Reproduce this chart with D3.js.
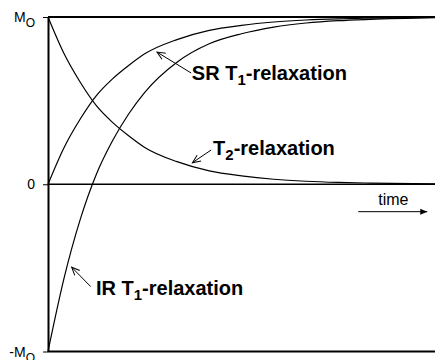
<!DOCTYPE html>
<html>
<head>
<meta charset="utf-8">
<script src="https://cdn.jsdelivr.net/npm/d3@7"></script>
<style>
  html, body { margin: 0; padding: 0; background: #fff; }
  svg { display: block; font-family: "Liberation Sans", Arial, sans-serif; }
</style>
</head>
<body>
<svg id="chart" width="435" height="360"></svg>
<script>
// Time samples (in units of the relaxation constant) and magnetisation values
const times   = [0, 0.25, 0.5, 0.75, 1, 1.25, 1.5, 2, 2.5, 3, 3.5, 4, 4.5, 5, 6];
const t2Decay = [1, 0.78, 0.61, 0.47, 0.37, 0.29, 0.22, 0.135, 0.08, 0.05, 0.03, 0.018, 0.011, 0.007, 0.002];
const srT1    = [0, 0.22, 0.39, 0.53, 0.63, 0.71, 0.78, 0.865, 0.92, 0.95, 0.97, 0.982, 0.989, 0.993, 0.998];
const irT1    = [-1, -0.56, -0.21, 0.06, 0.26, 0.42, 0.55, 0.73, 0.84, 0.90, 0.94, 0.964, 0.978, 0.986, 0.996];

// Magnetisation levels marked on the vertical axis
const levels      = [1, 0, -1];
const levelPrefix = ["M", "0", "-M"];
const levelSub    = ["O", "", "O"];

// Curve labels: text position, arrow start and arrow tip, all in data units
const labelNames = ["SR T", "T", "IR T"];
const labelSubs  = ["1", "2", "1"];
const labelAt    = [[2.23, 0.624], [2.56, 0.175], [0.744, -0.662]];
const arrowFrom  = [[2.22, 0.665], [2.53, 0.205], [0.662, -0.612]];
const arrowTo    = [[1.69, 0.79], [2.24, 0.129], [0.367, -0.496]];

const svg = d3.select("#chart");
const x = d3.scaleLinear().domain([0, 6]).range([48, 435]);
const y = d3.scaleLinear().domain([-1, 1]).range([351.5, 17]);

// Open arrowhead for label pointers, filled one for the time arrow
const defs = svg.append("defs");
defs.append("marker").attr("id", "open").attr("viewBox", "-10 -6 12 12")
  .attr("refX", 0).attr("refY", 0).attr("markerWidth", 12).attr("markerHeight", 12)
  .attr("markerUnits", "userSpaceOnUse").attr("orient", "auto")
  .append("path").attr("d", "M-8,-3.5 L0,0 L-8,3.5").attr("fill", "none")
  .attr("stroke", "#000").attr("stroke-width", 1);
defs.append("marker").attr("id", "solid").attr("viewBox", "-8 -4 9 8")
  .attr("refX", 0).attr("refY", 0).attr("markerWidth", 9).attr("markerHeight", 8)
  .attr("markerUnits", "userSpaceOnUse").attr("orient", "auto")
  .append("path").attr("d", "M-7,-3 L0,0 L-7,3 Z").attr("fill", "#000");

// Horizontal reference lines at +M0, 0 and -M0
svg.selectAll("line.level").data(levels).join("line")
  .attr("class", "level")
  .attr("x1", x(0)).attr("x2", x(6))
  .attr("y1", d => y(d)).attr("y2", d => y(d))
  .attr("stroke", "#000")
  .attr("stroke-width", d => d === 0 ? 1.3 : 2);

// Vertical axis with ticks at the three levels
const axis = d3.axisLeft(y).tickValues(levels).tickSize(5).tickSizeOuter(0).tickFormat("");
const gAxis = svg.append("g").attr("transform", `translate(${x(0)},0)`).call(axis);
gAxis.select(".domain").attr("stroke-width", 2);
gAxis.selectAll(".tick line").attr("stroke-width", 1);

const lvl = svg.append("g").attr("font-size", 14).attr("fill", "#000");
levels.forEach((v, i) => {
  const t = lvl.append("text")
    .attr("x", 35).attr("y", y(v) + 5)
    .attr("text-anchor", "end");
  t.append("tspan").text(levelPrefix[i]);
  if (levelSub[i]) t.append("tspan").attr("dy", 5).attr("font-size", 12).text(levelSub[i]);
});

// Relaxation curves
const line = d3.line().x(d => x(d[0])).y(d => y(d[1])).curve(d3.curveMonotoneX);
[t2Decay, srT1, irT1].forEach(series => {
  svg.append("path")
    .datum(times.map((t, i) => [t, series[i]]))
    .attr("d", line)
    .attr("fill", "none")
    .attr("stroke", "#000")
    .attr("stroke-width", 1.2);
});

// Curve labels with pointer arrows
labelNames.forEach((name, i) => {
  svg.append("line")
    .attr("x1", x(arrowFrom[i][0])).attr("y1", y(arrowFrom[i][1]))
    .attr("x2", x(arrowTo[i][0])).attr("y2", y(arrowTo[i][1]))
    .attr("stroke", "#000").attr("stroke-width", 1)
    .attr("marker-end", "url(#open)");
  const t = svg.append("text")
    .attr("x", x(labelAt[i][0])).attr("y", y(labelAt[i][1]))
    .attr("font-size", 20).attr("font-weight", "bold");
  t.append("tspan").text(name);
  t.append("tspan").attr("dy", 5).attr("font-size", 15).text(labelSubs[i]);
  t.append("tspan").attr("dy", -5).text("-relaxation");
});

// Time direction arrow
svg.append("text")
  .attr("x", x(5.12)).attr("y", y(-0.124))
  .attr("font-size", 16).text("time");
svg.append("line")
  .attr("x1", x(4.81)).attr("y1", y(-0.164))
  .attr("x2", x(5.88)).attr("y2", y(-0.164))
  .attr("stroke", "#000").attr("stroke-width", 1)
  .attr("marker-end", "url(#solid)");
</script>
</body>
</html>
